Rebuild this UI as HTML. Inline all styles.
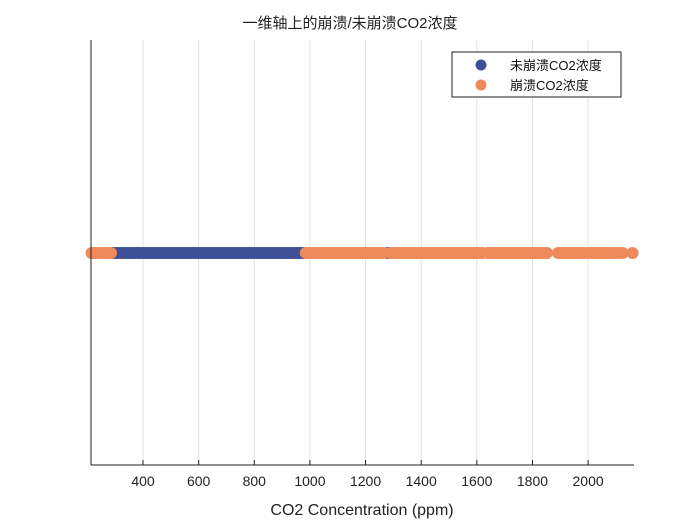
<!DOCTYPE html>
<html><head><meta charset="utf-8"><style>
body{margin:0;background:#fff;width:700px;height:525px;overflow:hidden}
text{font-family:"Liberation Sans","Noto Sans CJK SC",sans-serif}
</style></head><body>
<svg id="chart" width="700" height="525">
<rect x="0" y="0" width="700" height="525" fill="#fff"/>
<text x="350" y="28" text-anchor="middle" font-size="15" fill="#222">一维轴上的崩溃/未崩溃CO2浓度</text>
<g id="grid"></g>
<g id="ticks"></g>
<g id="pts"></g>
<line x1="91" y1="40" x2="91" y2="465" stroke="#222" stroke-width="1"/>
<line x1="91" y1="465" x2="634" y2="465" stroke="#222" stroke-width="1"/>
<text x="362" y="515" text-anchor="middle" font-size="16" fill="#222">CO2 Concentration (ppm)</text>
<g>
<rect x="452" y="52" width="169" height="45" fill="#fff" stroke="#222" stroke-width="1"/>
<g>
<circle cx="481" cy="65" r="5.5" fill="#3f5096"/>
<text x="510" y="70" font-size="13" fill="#111">未崩溃CO2浓度</text></g>
<g>
<circle cx="481" cy="85" r="5.5" fill="#ee8a5a"/>
<text x="510" y="90" font-size="13" fill="#111">崩溃CO2浓度</text></g>
</g>
</svg>
<script>
const tickValues=[400,600,800,1000,1200,1400,1600,1800,2000];
const uncollapsed=[290,300,310,320,330,340,350,360,370,380,390,400,410,420,430,440,450,460,470,480,490,500,510,520,530,540,550,560,570,580,590,600,610,620,630,640,650,660,670,680,690,700,710,720,730,740,750,760,770,780,790,800,810,820,830,840,850,860,870,880,890,900,910,920,930,940,950,960,970,975,1280];
const collapsed=[215,225,235,248,262,275,285,985,995,1005,1015,1025,1035,1045,1055,1065,1075,1085,1095,1105,1115,1125,1135,1145,1155,1165,1175,1185,1195,1205,1215,1225,1235,1245,1255,1265,1290,1300,1310,1320,1330,1340,1350,1360,1370,1380,1390,1400,1410,1420,1430,1440,1450,1460,1470,1480,1490,1500,1510,1520,1530,1540,1550,1560,1570,1580,1590,1600,1610,1620,1640,1650,1660,1670,1680,1690,1700,1710,1720,1730,1740,1750,1760,1770,1780,1790,1800,1810,1820,1830,1840,1852,1892,1902,1912,1922,1932,1942,1952,1962,1972,1985,2000,2010,2020,2030,2040,2050,2060,2072,2085,2098,2110,2125,2160];
const NS="http://www.w3.org/2000/svg";
const x0=91,x1=634,v0=213,v1=2165,yc=253;
function X(v){return x0+(v-v0)/(v1-v0)*(x1-x0);}
const grid=document.getElementById('grid'),ticks=document.getElementById('ticks'),pts=document.getElementById('pts');
tickValues.forEach(t=>{
 const g=document.createElementNS(NS,'line');
 g.setAttribute('x1',X(t));g.setAttribute('x2',X(t));g.setAttribute('y1',40);g.setAttribute('y2',465);
 g.setAttribute('stroke','#e3e3e3');
 
 
 grid.appendChild(g);
 const tk=document.createElementNS(NS,'line');
 tk.setAttribute('x1',X(t));tk.setAttribute('x2',X(t));tk.setAttribute('y1',465);tk.setAttribute('y2',460);
 tk.setAttribute('stroke','#222');
 
 
 ticks.appendChild(tk);
 const tx=document.createElementNS(NS,'text');
 tx.setAttribute('x',X(t));tx.setAttribute('y',486);tx.setAttribute('text-anchor','middle');
 tx.setAttribute('font-size','14');tx.setAttribute('fill','#222');tx.textContent=t;
 
 
 ticks.appendChild(tx);
});
function draw(arr,color,name){
 arr.forEach(v=>{
  const c=document.createElementNS(NS,'circle');
  c.setAttribute('cx',X(v));c.setAttribute('cy',yc);c.setAttribute('r',6);c.setAttribute('fill',color);
  
  
  pts.appendChild(c);
 });
}
draw(uncollapsed,'#3f5096','uncollapsed-point');
draw(collapsed,'#ee8a5a','collapsed-point');
</script>
</body></html>
